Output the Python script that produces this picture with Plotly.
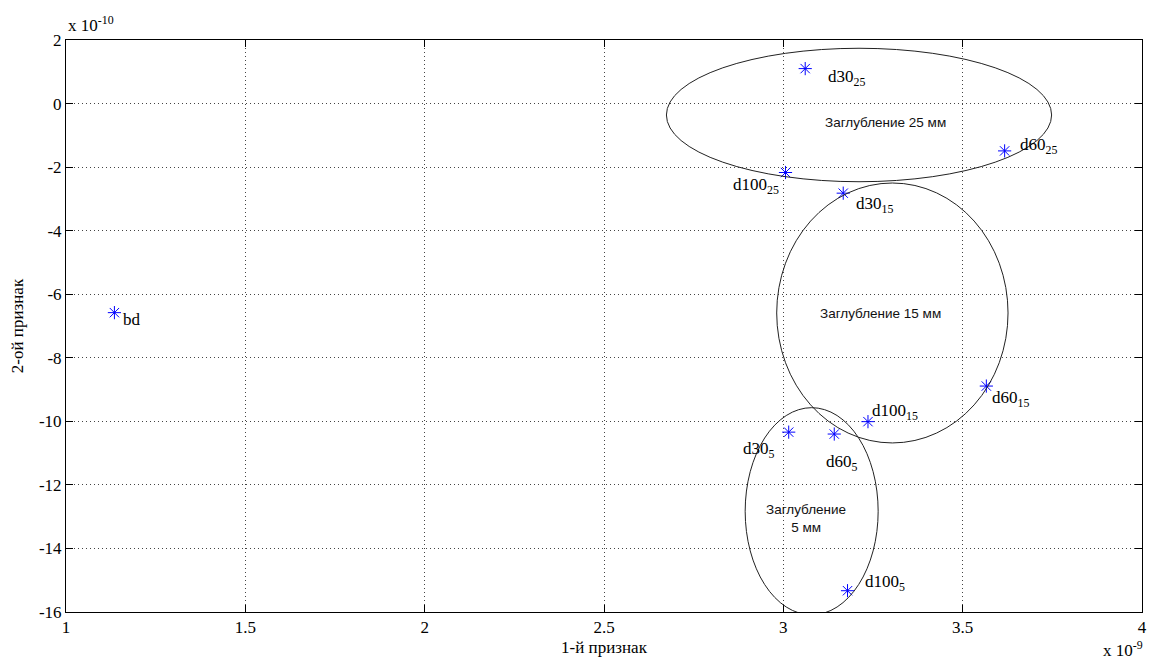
import plotly.graph_objects as go

# ---- data (x in units of 1e-9, y in units of 1e-10) ----
point_names = ["bd", "d30<sub>25</sub>", "d60<sub>25</sub>", "d100<sub>25</sub>",
               "d30<sub>15</sub>", "d60<sub>15</sub>", "d100<sub>15</sub>",
               "d30<sub>5</sub>", "d60<sub>5</sub>", "d100<sub>5</sub>"]
x_vals = [1.135, 3.061, 3.617, 3.006, 3.167, 3.566, 3.236, 3.015, 3.142, 3.179]
y_vals = [-6.58, 1.10, -1.49, -2.17, -2.82, -8.89, -10.01, -10.34, -10.40, -15.33]

# label anchor positions (data coords)
label_x = [1.152, 3.120, 3.655, 2.855, 3.198, 3.577, 3.241, 2.881, 3.112, 3.221]
label_y = [-6.80, 0.80, -1.35, -2.60, -3.20, -9.30, -9.70, -10.90, -11.30, -15.10]

# ellipses: center x, center y, half-width, half-height
ell_cx = [3.211, 3.304, 3.079]
ell_cy = [-0.36, -6.59, -12.83]
ell_rx = [0.537, 0.3225, 0.1854]
ell_ry = [2.10, 4.09, 3.26]
ell_text = ["Заглубление 25 мм", "Заглубление 15 мм", "Заглубление<br>5 мм"]
ell_text_x = [3.286, 3.270, 3.062]
ell_text_y = [-0.60, -6.60, -13.05]

x_ticks = [1, 1.5, 2, 2.5, 3, 3.5, 4]
y_ticks = [-16, -14, -12, -10, -8, -6, -4, -2, 0, 2]

serif = "Liberation Serif, Times New Roman, serif"
sans = "Liberation Sans, Arial, sans-serif"

fig = go.Figure()
fig.add_trace(go.Scatter(
    x=x_vals, y=y_vals, mode="markers",
    marker=dict(symbol="asterisk-open", size=11, color="#0000ff",
                line=dict(color="#0000ff", width=1)),
    showlegend=False, hoverinfo="skip"))

for nm, lx, ly in zip(point_names, label_x, label_y):
    fig.add_annotation(x=lx, y=ly, text=nm, showarrow=False, xanchor="left",
                       yanchor="middle", font=dict(family=serif, size=17, color="black"))

for cx, cy, rx, ry in zip(ell_cx, ell_cy, ell_rx, ell_ry):
    fig.add_shape(type="circle", xref="x", yref="y",
                  x0=cx - rx, x1=cx + rx, y0=cy - ry, y1=cy + ry,
                  line=dict(color="#222222", width=1))

for t, tx, ty in zip(ell_text, ell_text_x, ell_text_y):
    fig.add_annotation(x=tx, y=ty, text=t, showarrow=False, align="center",
                       font=dict(family=sans, size=13.5, color="#111111"))

# exponent labels
fig.add_annotation(xref="paper", yref="paper", x=0.0, y=1.0, xanchor="left", yanchor="bottom",
                   text="x 10<sup>-10</sup>", showarrow=False, yshift=3,
                   font=dict(family=serif, size=17, color="black"))
fig.add_annotation(xref="paper", yref="paper", x=1.0, y=0.0, xanchor="right", yanchor="top",
                   text="x 10<sup>-9</sup>", showarrow=False, yshift=-24, xshift=3,
                   font=dict(family=serif, size=17, color="black"))

axis_common = dict(showline=True, linecolor="black", linewidth=1, mirror="ticks",
                   ticks="inside", ticklen=7, tickcolor="black", automargin=False,
                   showgrid=True, gridcolor="#444444", griddash="1px,3px", gridwidth=1,
                   zeroline=False, tickfont=dict(family=serif, size=17, color="black"))

fig.update_xaxes(range=[1, 4], tickvals=x_ticks, ticktext=[str(v) for v in x_ticks],
                 ticklabeloverflow="allow",
                 title=dict(text="1-й признак", font=dict(family=serif, size=17, color="black"),
                            standoff=4),
                 **axis_common)
fig.update_yaxes(range=[-16, 2], tickvals=y_ticks, ticktext=[str(v) for v in y_ticks],
                 title=dict(text="2-ой признак", font=dict(family=serif, size=17, color="black"),
                            standoff=10),
                 **axis_common)

# the page body has an 8px margin, so the figure is sized and padded to fit the window
fig.update_layout(width=1139, height=652, plot_bgcolor="white", paper_bgcolor="white",
                  margin=dict(l=58, r=5, t=32, b=48, autoexpand=False), showlegend=False)

fig.write_html("out.html")
